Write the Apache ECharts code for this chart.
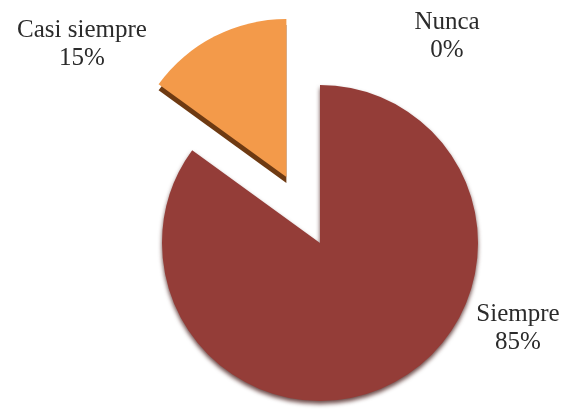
<!DOCTYPE html>
<html>
<head>
<meta charset="utf-8">
<script src="https://cdn.jsdelivr.net/npm/echarts@6/dist/echarts.min.js"></script>
<style>
  html, body { margin: 0; padding: 0; background: #ffffff; }
  #chart { width: 570px; height: 411px; }
</style>
</head>
<body>
<div id="chart"></div>
<script>
// Survey answers and their shares (percent)
const categories = ['Siempre', 'Casi siempre', 'Nunca'];
const values = [85, 15, 0];
const colors = ['#943d38', '#f39a4a', '#5b7fb5'];
const sideColors = ['rgba(0,0,0,0)', '#6e3a12', 'rgba(0,0,0,0)'];
const pulledOut = 'Casi siempre';

// Where each label block sits
const labelSpots = {
  'Siempre': [518, 328],
  'Casi siempre': [82, 44],
  'Nunca': [447, 36]
};

const CENTER = [320, 243];
const RADIUS = 158;
const DEPTH = 6;
const PULL = 74;

const chart = echarts.init(document.getElementById('chart'), null, { renderer: 'canvas' });

const noBorder = { borderWidth: 0, borderColor: 'rgba(0,0,0,0)' };

const common = {
  type: 'pie',
  radius: [0, RADIUS],
  startAngle: 90,
  clockwise: true,
  padAngle: 0,
  avoidLabelOverlap: false,
  minShowLabelAngle: 0,
  emphasis: { disabled: true },
  silent: true,
  itemStyle: noBorder,
  labelLine: { show: false }
};

chart.setOption({
  backgroundColor: '#ffffff',
  animation: false,
  series: [
    // side wall of the pulled-out slice
    Object.assign({}, common, {
      center: [CENTER[0], CENTER[1] + DEPTH],
      selectedMode: 'single',
      selectedOffset: PULL,
      label: { show: false },
      data: categories.map((name, i) => ({
        name, value: values[i], selected: name === pulledOut,
        itemStyle: Object.assign({ color: sideColors[i] }, noBorder),
        select: { itemStyle: Object.assign({ color: sideColors[i] }, noBorder) }
      }))
    }),
    // top faces
    Object.assign({}, common, {
      center: CENTER,
      selectedMode: 'single',
      selectedOffset: PULL,
      label: { show: false },
      data: categories.map((name, i) => {
        const style = name === pulledOut ? { color: colors[i] } : {
          color: colors[i],
          shadowColor: 'rgba(60,15,12,0.75)',
          shadowBlur: 4,
          shadowOffsetY: 3
        };
        return {
          name, value: values[i], selected: name === pulledOut,
          itemStyle: Object.assign(style, noBorder),
          select: { itemStyle: Object.assign({}, style, noBorder) }
        };
      })
    }),
    // category labels
    Object.assign({}, common, {
      center: CENTER,
      selectedMode: false,
      itemStyle: Object.assign({ color: 'rgba(0,0,0,0)' }, noBorder),
      label: {
        show: true,
        position: 'outside',
        formatter: p => p.name + '\n' + p.value + '%',
        fontFamily: "'Liberation Serif', 'Times New Roman', serif",
        fontSize: 25,
        lineHeight: 28,
        color: '#2b2b2b',
        align: 'center'
      },
      labelLayout: params => {
        const spot = labelSpots[categories[params.dataIndex]];
        return { x: spot[0], y: spot[1], align: 'center', verticalAlign: 'middle' };
      },
      data: categories.map((name, i) => ({ name, value: values[i] }))
    })
  ]
});
</script>
</body>
</html>
